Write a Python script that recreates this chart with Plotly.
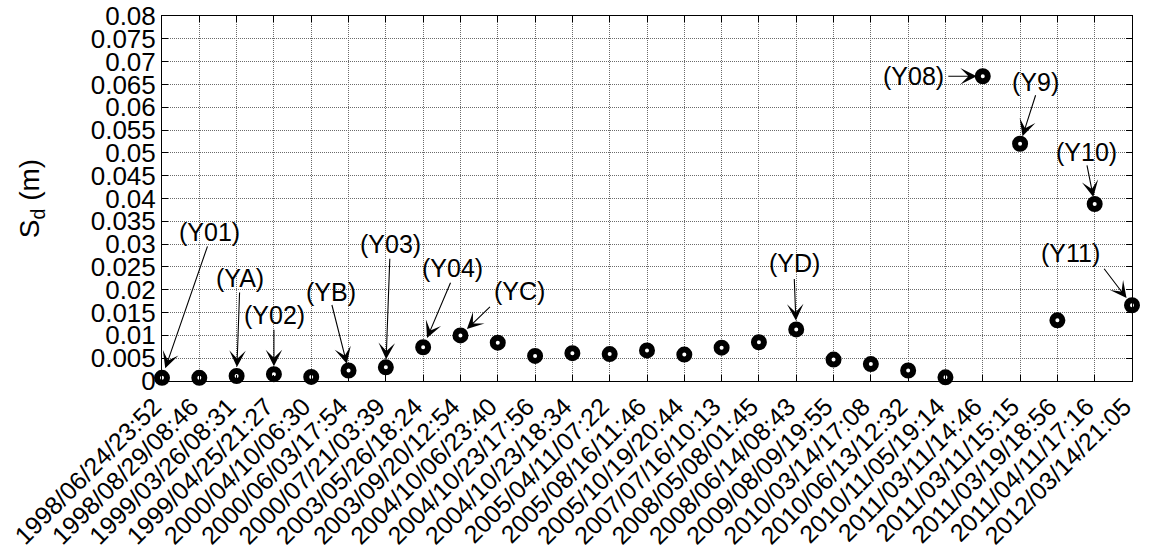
import plotly.graph_objects as go

# Event timestamps (category axis)
events = [
    "1998/06/24/23:52", "1998/08/29/08:46", "1999/03/26/08:31", "1999/04/25/21:27",
    "2000/04/10/06:30", "2000/06/03/17:54", "2000/07/21/03:39", "2003/05/26/18:24",
    "2003/09/20/12:54", "2004/10/06/23:40", "2004/10/23/17:56", "2004/10/23/18:34",
    "2005/04/11/07:22", "2005/08/16/11:46", "2005/10/19/20:44", "2007/07/16/10:13",
    "2008/05/08/01:45", "2008/06/14/08:43", "2009/08/09/19:55", "2010/03/14/17:08",
    "2010/06/13/12:32", "2010/11/05/19:14", "2011/03/11/14:46", "2011/03/11/15:15",
    "2011/03/19/18:56", "2011/04/11/17:16", "2012/03/14/21:05",
]

# Spectral displacement Sd (m)
sd_values = [
    0.0007, 0.0007, 0.0011, 0.0015, 0.0009, 0.0023, 0.0030, 0.0074,
    0.0100, 0.0084, 0.0055, 0.0061, 0.0059, 0.0067, 0.0058, 0.0073,
    0.0085, 0.0113, 0.0047, 0.0037, 0.0023, 0.0008, 0.0668, 0.0520,
    0.0133, 0.0388, 0.0166,
]

# Labelled events: index, label
label_index = [0, 2, 3, 5, 6, 7, 8, 17, 22, 23, 25, 26]
label_text = ["(Y01)", "(YA)", "(Y02)", "(YB)", "(Y03)", "(Y04)", "(YC)",
              "(YD)", "(Y08)", "(Y9)", "(Y10)", "(Y11)"]

# Label text offsets from the marker (px, +x right, +y down)
label_dx = [47, 3, 1, -18, 5, 29, 59, -2, -69, 15, -8, -62]
label_dy = [-146, -98, -59, -79, -123, -79, -44, -66, 0, -62, -52, -52]

# Arrow tail offsets from the marker (px) and gap at the head
tail_dx = [46, 3, 0, -17, 4, 28, 31, -2, -36, 16, -8, -29]
tail_dy = [-133, -85, -46, -67, -110, -66, -30, -52, 0, -50, -40, -38]
head_gap = [10, 9, 8, 7, 8, 10, 9, 9, 6, 8, 7, 9]

y_tick_vals = [0, 0.005, 0.01, 0.015, 0.02, 0.025, 0.03, 0.035, 0.04,
               0.045, 0.05, 0.055, 0.06, 0.065, 0.07, 0.075, 0.08]
y_tick_text = ["0", "0.005", "0.01", "0.015", "0.02", "0.025", "0.03", "0.035", "0.04",
               "0.045", "0.05", "0.055", "0.06", "0.065", "0.07", "0.075", "0.08"]

FONT = "Liberation Sans, Arial, sans-serif"

fig = go.Figure()
fig.add_trace(go.Scatter(
    x=events, y=sd_values, mode="markers",
    marker=dict(symbol="circle", size=10, color="white",
                line=dict(color="black", width=6)),
    cliponaxis=False, showlegend=False,
))

annotations = []
for k, i in enumerate(label_index):
    # arrow
    annotations.append(dict(
        x=events[i], y=sd_values[i], xref="x", yref="y",
        text="", showarrow=True, ax=tail_dx[k], ay=tail_dy[k],
        arrowhead=3, arrowsize=2.5, arrowwidth=1.1, arrowcolor="black",
        standoff=head_gap[k],
    ))
    # text
    annotations.append(dict(
        x=events[i], y=sd_values[i], xref="x", yref="y",
        text=label_text[k], showarrow=False,
        xshift=label_dx[k], yshift=-label_dy[k],
        xanchor="center", yanchor="middle",
        font=dict(family=FONT, size=25, color="black"),
    ))

fig.update_layout(
    width=1151, height=560,
    margin=dict(l=162, r=19, t=16, b=179),
    paper_bgcolor="white", plot_bgcolor="white",
    font=dict(family=FONT, size=24, color="black"),
    annotations=annotations,
)

fig.update_xaxes(
    type="category", range=[0, len(events) - 1],
    tickangle=-45, tickfont=dict(family=FONT, size=25, color="black"),
    ticklabelshift=-8,
    ticks="inside", ticklen=6, tickcolor="black",
    showline=True, linecolor="black", linewidth=1, mirror="allticks",
    showgrid=True, gridcolor="#6a6a6a", griddash="1px,1px", gridwidth=1,
    zeroline=False, automargin=False,
)
fig.update_yaxes(
    range=[0, 0.08], tickvals=y_tick_vals, ticktext=y_tick_text,
    tickfont=dict(family=FONT, size=26, color="black"),
    ticks="inside", ticklen=6, tickcolor="black",
    showline=True, linecolor="black", linewidth=1, mirror="allticks",
    showgrid=True, gridcolor="#6a6a6a", griddash="1px,1px", gridwidth=1,
    zeroline=False, automargin=False,
    title=dict(text="S<sub>d</sub> (m)", font=dict(family=FONT, size=28, color="black"),
               standoff=42),
)

fig.write_html("out.html")
